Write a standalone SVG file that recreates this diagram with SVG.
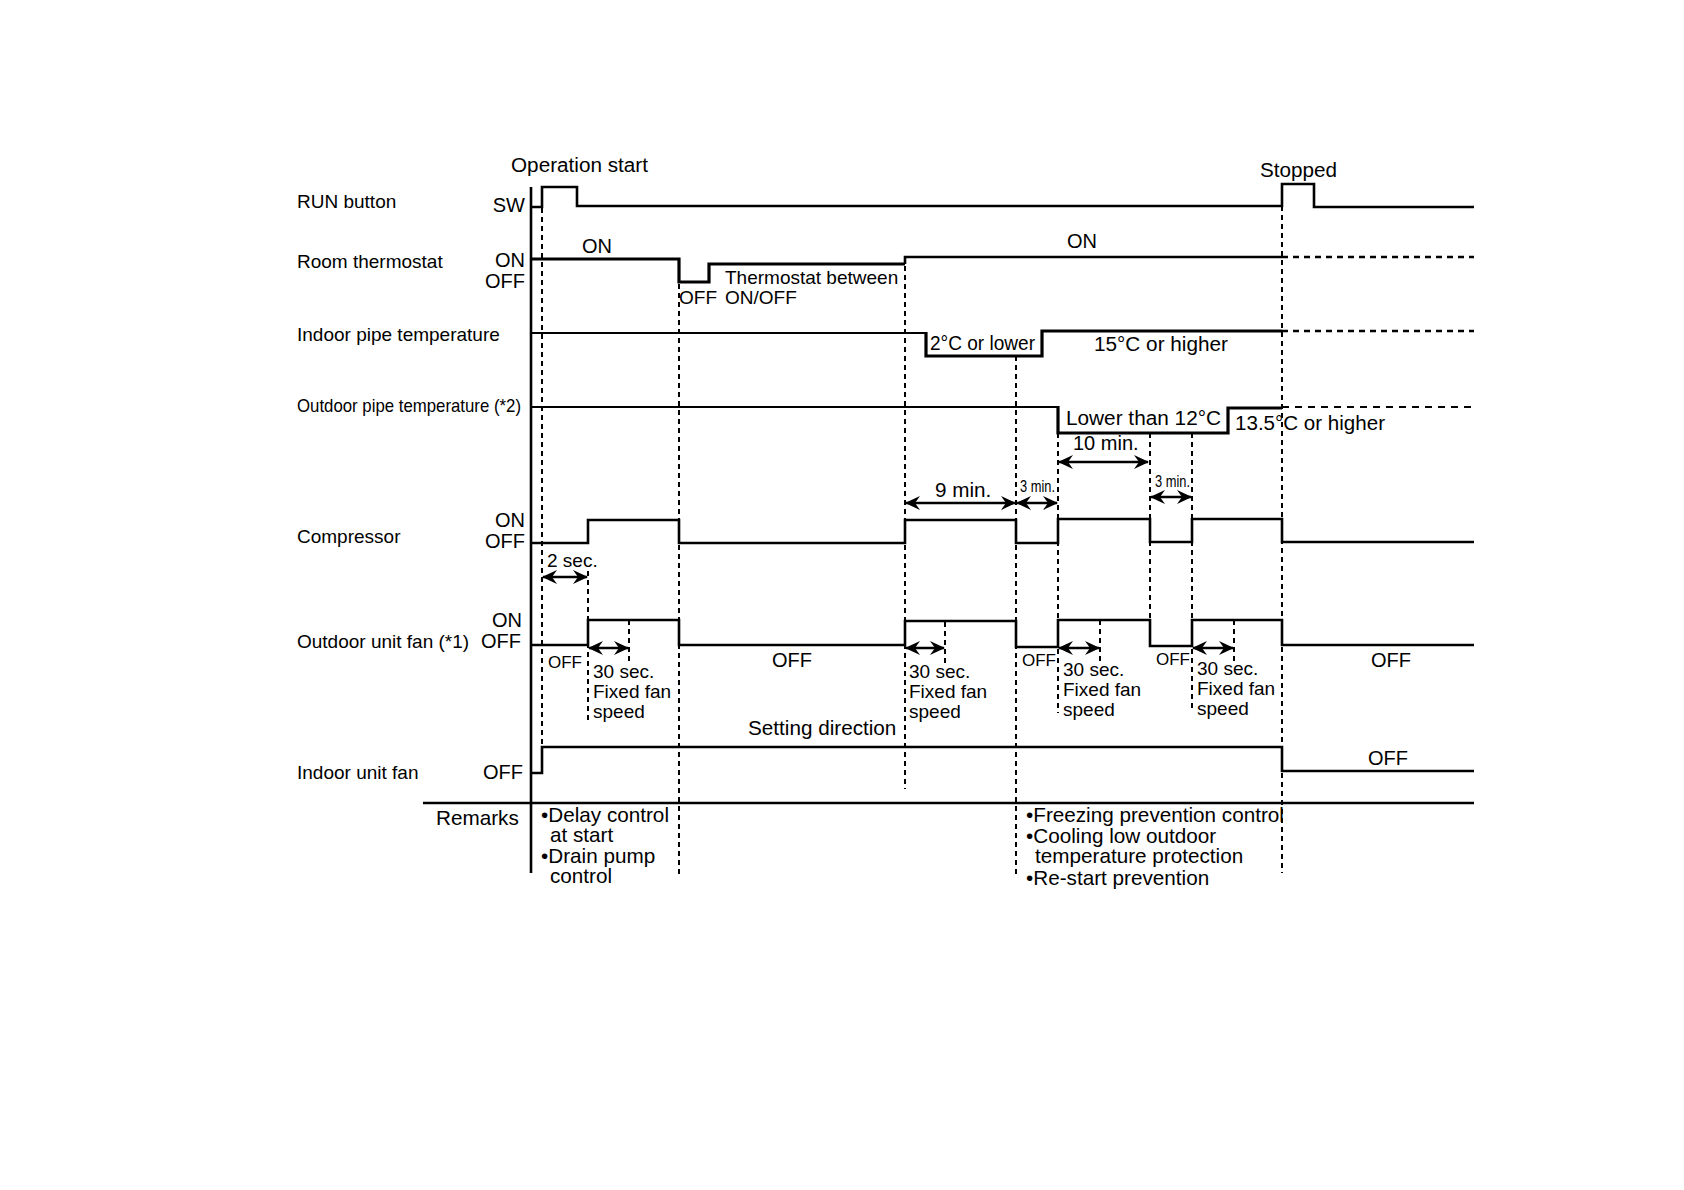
<svg xmlns="http://www.w3.org/2000/svg" width="1684" height="1190" viewBox="0 0 1684 1190">
<style>
text{font-family:"Liberation Sans",Arial,sans-serif;font-size:20px;fill:#000}
.lbl{font-size:19px}
.rm{font-size:20.7px}
.r{text-anchor:end}
.sig{fill:none;stroke:#000;stroke-width:2.6;stroke-linejoin:miter}
.thin{fill:none;stroke:#000;stroke-width:2}
.thick{fill:none;stroke:#000;stroke-width:3.2}
.guide{fill:none;stroke:#000;stroke-width:2;stroke-dasharray:5 4}
.cont{fill:none;stroke:#000;stroke-width:2.6;stroke-dasharray:6 5}
.contthin{fill:none;stroke:#000;stroke-width:2;stroke-dasharray:7 6}
.arr{fill:none;stroke:#000;stroke-width:2.4;marker-start:url(#ah);marker-end:url(#ah)}
</style>
<defs>
<marker id="ah" viewBox="0 0 15 14" markerWidth="15" markerHeight="14" refX="14" refY="7" orient="auto-start-reverse" markerUnits="userSpaceOnUse">
<path d="M0,0 L15,7 L0,14 L5,7 z" fill="#000"/>
</marker>
</defs>
<rect width="1684" height="1190" fill="#fff"/>

<g id="axis">
<line x1="531" y1="187" x2="531" y2="873" stroke="#000" stroke-width="2.6"/>
<line x1="423" y1="803" x2="1474" y2="803" stroke="#000" stroke-width="2.4"/>
</g>

<g id="connectors">
<line class="guide" x1="542" y1="208" x2="542" y2="747"/>
<line class="guide" x1="679" y1="284" x2="679" y2="875"/>
<line class="guide" x1="588" y1="571" x2="588" y2="723"/>
<line class="guide" x1="629" y1="620" x2="629" y2="663"/>
<line class="guide" x1="905" y1="257" x2="905" y2="789"/>
<line class="guide" x1="945" y1="622" x2="945" y2="667"/>
<line class="guide" x1="1016" y1="356" x2="1016" y2="877"/>
<line class="guide" x1="1058" y1="433" x2="1058" y2="713"/>
<line class="guide" x1="1100" y1="620" x2="1100" y2="663"/>
<line class="guide" x1="1150" y1="433" x2="1150" y2="620"/>
<line class="guide" x1="1192" y1="433" x2="1192" y2="710"/>
<line class="guide" x1="1234" y1="620" x2="1234" y2="663"/>
<line class="guide" x1="1282" y1="206" x2="1282" y2="873"/>
<line class="arr" x1="543" y1="577" x2="587" y2="577"/>
<line class="arr" x1="589" y1="648" x2="628" y2="648"/>
<line class="arr" x1="906" y1="648" x2="944" y2="648"/>
<line class="arr" x1="1059" y1="648" x2="1099" y2="648"/>
<line class="arr" x1="1193" y1="648" x2="1233" y2="648"/>
<line class="arr" x1="906" y1="503" x2="1015" y2="503"/>
<line class="arr" x1="1017" y1="503" x2="1057" y2="503"/>
<line class="arr" x1="1059" y1="462" x2="1148" y2="462"/>
<line class="arr" x1="1151" y1="497" x2="1191" y2="497"/>
</g>

<g id="run-button">
<text class="lbl" x="297" y="208">RUN button</text>
<text class="r" x="525" y="212">SW</text>
<text x="511" y="172" textLength="137" lengthAdjust="spacingAndGlyphs">Operation start</text>
<text x="1260" y="177" textLength="77" lengthAdjust="spacingAndGlyphs">Stopped</text>
<polyline class="sig" points="531,207 542,207 542,187 577,187 577,206 1282,206 1282,184 1314,184 1314,207 1474,207"/>
</g>

<g id="room-thermostat">
<text class="lbl" x="297" y="268">Room thermostat</text>
<text class="r" x="525" y="267">ON</text>
<text class="r" x="525" y="288">OFF</text>
<text x="582" y="253">ON</text>
<text x="1067" y="248">ON</text>
<text class="lbl" x="725" y="284">Thermostat between</text>
<text class="lbl" x="679" y="304">OFF</text>
<text class="lbl" x="725" y="304">ON/OFF</text>
<polyline class="thick" points="531,259 679,259 679,282 709,282 709,264 905,264"/>
<polyline class="sig" points="905,264 905,257 1282,257"/>
<line class="cont" x1="1282" y1="257" x2="1474" y2="257"/>
</g>

<g id="indoor-pipe-temperature">
<text class="lbl" x="297" y="341">Indoor pipe temperature</text>
<polyline class="thin" points="531,333 926,333"/>
<polyline class="thick" points="926,332 926,356 1042,356 1042,331 1282,331"/>
<line class="cont" x1="1282" y1="331" x2="1474" y2="331"/>
<text x="930" y="350" textLength="105" lengthAdjust="spacingAndGlyphs">2°C or lower</text>
<text x="1094" y="351" textLength="134" lengthAdjust="spacingAndGlyphs">15°C or higher</text>
</g>

<g id="outdoor-pipe-temperature">
<text class="lbl" x="297" y="412" textLength="224" lengthAdjust="spacingAndGlyphs">Outdoor pipe temperature (*2)</text>
<polyline class="thin" points="531,407 1058,407"/>
<polyline class="thick" points="1058,406 1058,433 1228,433 1228,408 1282,408"/>
<line class="contthin" x1="1282" y1="407" x2="1474" y2="407"/>
<text x="1066" y="425" textLength="155" lengthAdjust="spacingAndGlyphs">Lower than 12°C</text>
<text x="1235" y="430" textLength="150" lengthAdjust="spacingAndGlyphs">13.5°C or higher</text>
<text x="1073" y="450">10 min.</text>
</g>

<g id="compressor">
<text class="lbl" x="297" y="543">Compressor</text>
<text class="r" x="525" y="527">ON</text>
<text class="r" x="525" y="548">OFF</text>
<polyline class="sig" points="531,543 588,543 588,520 679,520 679,543 905,543 905,520 1016,520 1016,543 1058,543 1058,519 1150,519 1150,542 1192,542 1192,519 1282,519 1282,542 1474,542"/>
<text class="lbl" x="547" y="567">2 sec.</text>
<text x="935" y="497" style="font-size:20.7px">9 min.</text>
<text x="1020" y="492" style="font-size:17px" textLength="35" lengthAdjust="spacingAndGlyphs">3 min.</text>
<text x="1155" y="487" style="font-size:17px" textLength="35" lengthAdjust="spacingAndGlyphs">3 min.</text>
</g>

<g id="outdoor-unit-fan">
<text class="lbl" x="297" y="648">Outdoor unit fan (*1)</text>
<text class="r" x="522" y="627">ON</text>
<text class="r" x="521" y="648">OFF</text>
<polyline class="sig" points="531,645 588,645 588,620 679,620 679,645 905,645 905,621 1016,621 1016,647 1058,647 1058,620 1150,620 1150,646 1192,646 1192,620 1282,620 1282,645 1474,645"/>
<text x="548" y="668" style="font-size:17px">OFF</text>
<text x="1022" y="666" style="font-size:17px">OFF</text>
<text x="1156" y="665" style="font-size:17px">OFF</text>
<text x="772" y="667">OFF</text>
<text x="1371" y="667">OFF</text>
<text class="lbl" x="593" y="678">30 sec.</text>
<text class="lbl" x="593" y="698">Fixed fan</text>
<text class="lbl" x="593" y="718">speed</text>
<text class="lbl" x="909" y="678">30 sec.</text>
<text class="lbl" x="909" y="698">Fixed fan</text>
<text class="lbl" x="909" y="718">speed</text>
<text class="lbl" x="1063" y="676">30 sec.</text>
<text class="lbl" x="1063" y="696">Fixed fan</text>
<text class="lbl" x="1063" y="716">speed</text>
<text class="lbl" x="1197" y="675">30 sec.</text>
<text class="lbl" x="1197" y="695">Fixed fan</text>
<text class="lbl" x="1197" y="715">speed</text>
<text x="748" y="735" class="rm">Setting direction</text>
</g>

<g id="indoor-unit-fan">
<text class="lbl" x="297" y="779">Indoor unit fan</text>
<text class="r" x="523" y="779">OFF</text>
<polyline class="sig" points="531,773 542,773 542,747 1282,747 1282,771 1474,771"/>
<text x="1368" y="765">OFF</text>
</g>

<g id="remarks">
<text class="rm" x="436" y="825">Remarks</text>
<text class="rm" x="541" y="822">•Delay control</text>
<text class="rm" x="550" y="842">at start</text>
<text class="rm" x="541" y="863">•Drain pump</text>
<text class="rm" x="550" y="883">control</text>
<text class="rm" x="1026" y="822">•Freezing prevention control</text>
<text class="rm" x="1026" y="843">•Cooling low outdoor</text>
<text class="rm" x="1035" y="863">temperature protection</text>
<text class="rm" x="1026" y="885">•Re-start prevention</text>
</g>
</svg>
